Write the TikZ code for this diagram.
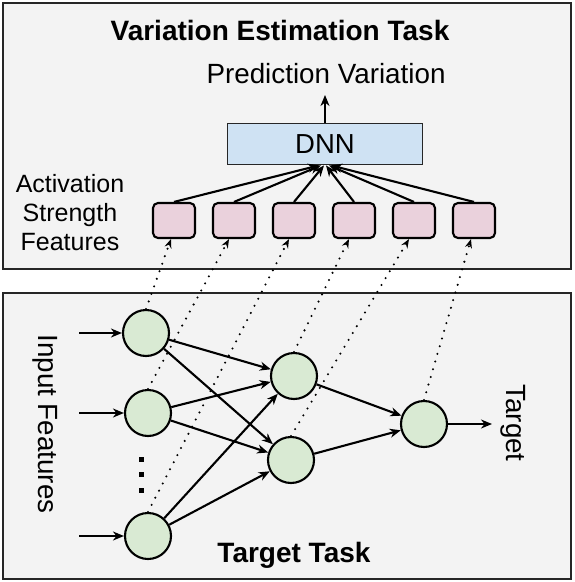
\documentclass[tikz,border=0pt]{standalone}
\usepackage{fontspec}
\setmainfont{Liberation Sans}
\usetikzlibrary{arrows.meta,calc}
\definecolor{panelbg}{HTML}{F3F3F3}
\definecolor{dnnblue}{HTML}{CFE2F3}
\definecolor{featpink}{HTML}{EAD1DC}
\definecolor{neurgreen}{HTML}{D9EAD3}
\begin{document}
\begin{tikzpicture}[x=1pt,y=-1pt,
  panel/.style={draw=black!85, line width=1.8pt, fill=panelbg},
  dnnbox/.style={draw=black!85, line width=1.8pt, fill=dnnblue, minimum width=195pt, minimum height=41pt, inner sep=0pt, font=\fontsize{27.5}{32}\selectfont},
  featbox/.style={draw=black, line width=2.1pt, fill=featpink, rounded corners=5pt, minimum width=42pt, minimum height=35pt, inner sep=0pt},
  neuron/.style={circle, draw=black, line width=2.1pt, fill=neurgreen, minimum size=46pt, inner sep=0pt},
  arr/.style={line width=2.1pt, -{Stealth[length=11pt,width=9pt,inset=3.5pt]}},
  dotarr/.style={line width=2.3pt, line cap=round, dash pattern=on 0pt off 8pt, -{Stealth[length=9pt,width=7pt,inset=3pt]}},
  bigtxt/.style={inner sep=0pt, font=\fontsize{27.8}{32}\selectfont},
  boldtxt/.style={inner sep=0pt, font=\fontsize{28}{32}\selectfont\bfseries}
]
\useasboundingbox (0,0) rectangle (574,582);
% panels
\draw[panel] (3,3) rectangle (571,269);
\draw[panel] (3,293) rectangle (571,579);

% top panel
\node[boldtxt, anchor=base] (title) at (280,40) {Variation Estimation Task};
\node[bigtxt, anchor=base] (pred) at (326,83) {Prediction Variation};
\node[dnnbox] (dnn) at (325,144) {DNN};
\coordinate (predin) at (325,95);
\draw[arr] (dnn.north) -- (predin);
\node[inner sep=0pt, align=center, font=\fontsize{25}{29}\selectfont] (asf) at (70,213) {Activation\\Strength\\Features};

\foreach \i/\x in {1/174,2/234,3/294,4/354,5/414,6/474}
  \node[featbox] (s\i) at (\x,220.5) {};
\foreach \i/\o in {1/-6,2/-4,3/-1,4/1,5/4,6/6}
  \draw[arr] (s\i.north) -- ($(dnn.south)+(\o,0)$);

% bottom panel
\node[neuron] (l1) at (146,333) {};
\node[neuron] (l2) at (148,413) {};
\node[neuron] (l3) at (148,536) {};
\node[neuron] (m1) at (294,376) {};
\node[neuron] (m2) at (291,460) {};
\node[neuron] (r) at (424,424) {};

\coordinate (in1) at (79,333);
\coordinate (in2) at (79,413);
\coordinate (in3) at (79,536);
\foreach \n in {1,2,3}
  \draw[arr] (in\n) -- (l\n.west);

\foreach \a in {l1,l2,l3}
  \foreach \b in {m1,m2}
    \draw[arr] (\a) -- (\b);
\draw[arr] (m1) -- (r);
\draw[arr] (m2) -- (r);
\coordinate (tout) at (492,424);
\draw[arr] (r.east) -- (tout);

\node[bigtxt, rotate=-90] (tgt) at (513,423) {Target};
\node[bigtxt, rotate=-90] (inf) at (45,424) {Input Features};

\foreach \y [count=\k] in {459,474,490}
  \node[fill=black, minimum size=5pt, inner sep=0pt] (dot\k) at (141,\y) {};

\node[boldtxt, anchor=base] (tt) at (294,562) {Target Task};

% dotted connections
\draw[dotarr] (l1.north) -- ($(s1.south)+(-3,0)$);
\draw[dotarr] (l2.north) -- ($(s2.south)+(-5,0)$);
\draw[dotarr] (l3.north) -- ($(s3.south)+(-5,0)$);
\draw[dotarr] (m1.north) -- ($(s4.south)+(-5,0)$);
\draw[dotarr] (m2.north) -- ($(s5.south)+(-5,0)$);
\draw[dotarr] (r.north) -- ($(s6.south)+(-3,0)$);
\end{tikzpicture}
\end{document}
